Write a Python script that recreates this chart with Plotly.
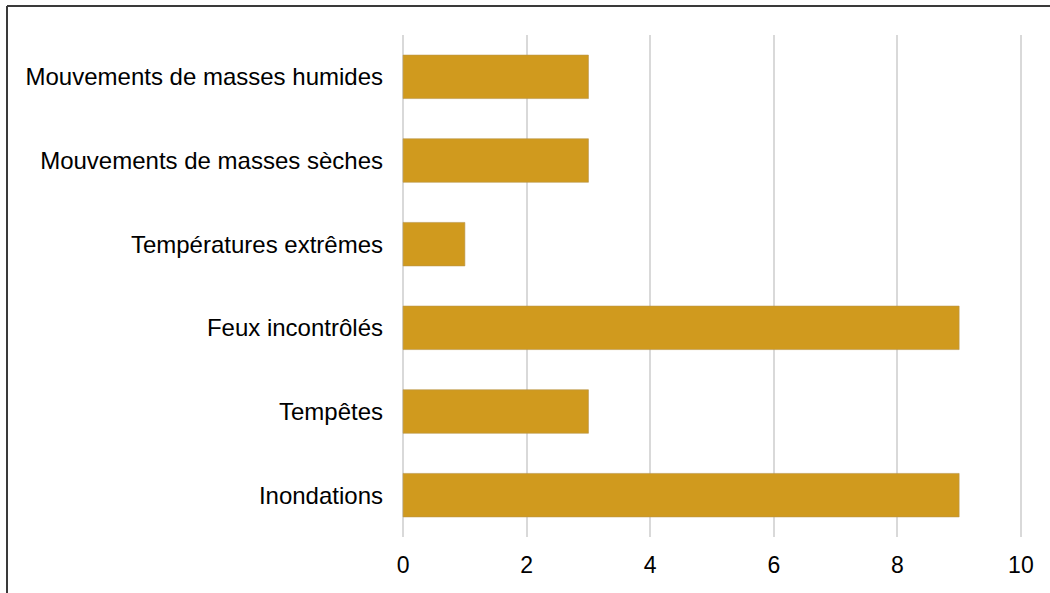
import plotly.graph_objects as go

categories = ["Inondations", "Tempêtes", "Feux incontrôlés", "Températures extrêmes",
              "Mouvements de masses sèches", "Mouvements de masses humides"]
values = [9, 3, 9, 1, 3, 3]
tick_vals = [0, 2, 4, 6, 8, 10]

W, H = 1050, 593
L, R, T, B = 400, 26, 35, 56
pw, ph = W - L - R, H - T - B

def px_x(p):
    return (p - L) / pw

def px_y(p):
    return (H - B - p) / ph

fig = go.Figure(go.Bar(
    x=values, y=categories, orientation="h",
    marker=dict(color="#D09A1E", line=dict(color="#B8934A", width=0.6)),
    width=0.52,
))

fig.update_layout(
    width=W, height=H,
    margin=dict(l=L, r=R, t=T, b=B),
    paper_bgcolor="white", plot_bgcolor="white",
    font=dict(family="Liberation Sans, Arial, sans-serif", size=24, color="#000000"),
    showlegend=False,
    xaxis=dict(range=[-0.05, 10.05], tickvals=tick_vals, showgrid=True, gridcolor="#D9D9D9",
               gridwidth=1.5, zeroline=False, showline=False, ticks="",
               tickfont=dict(size=23), ticklabelstandoff=12),
    yaxis=dict(showgrid=False, zeroline=False, showline=False, ticks="",
               ticklabelstandoff=16, tickfont=dict(size=24)),
    shapes=[
        dict(type="line", xref="paper", yref="paper", x0=px_x(7), x1=px_x(1060),
             y0=px_y(6), y1=px_y(6), line=dict(color="#3A3A3A", width=2)),
        dict(type="line", xref="paper", yref="paper", x0=px_x(7), x1=px_x(7),
             y0=px_y(6), y1=px_y(600), line=dict(color="#3A3A3A", width=2)),
    ],
)

fig.write_html("out.html", config={"displayModeBar": False},
               post_script="document.body.style.margin='0';")
